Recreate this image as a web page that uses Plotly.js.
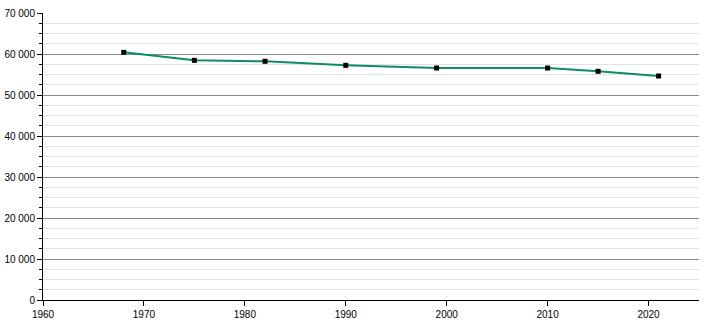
<!DOCTYPE html>
<html>
<head>
<meta charset="utf-8">
<script src="https://cdn.plot.ly/plotly-3.0.1.min.js"></script>
<style>html,body{margin:0;padding:0;background:#fff;}#chart{width:710px;height:320px;}</style>
</head>
<body>
<div id="chart"></div>
<script>
const years = [1968, 1975, 1982, 1990, 1999, 2010, 2015, 2021];
const population = [60400, 58450, 58220, 57240, 56580, 56580, 55780, 54630];
const xTicks = [1960, 1970, 1980, 1990, 2000, 2010, 2020];
const yTicks = [0, 10000, 20000, 30000, 40000, 50000, 60000, 70000];

const trace = {
  x: years,
  y: population,
  type: 'scatter',
  mode: 'lines+markers',
  line: {color: '#0f8a6a', width: 2},
  marker: {symbol: 'square', size: 5, color: '#000000'},
  hoverinfo: 'x+y'
};

const layout = {
  width: 710,
  height: 320,
  margin: {l: 43, r: 11, t: 13, b: 20, pad: 0},
  paper_bgcolor: '#ffffff',
  plot_bgcolor: '#ffffff',
  separators: '. ',
  showlegend: false,
  font: {family: 'Liberation Sans, Arial, sans-serif', size: 10, color: '#000000'},
  xaxis: {
    range: [1960, 2025],
    tickvals: xTicks,
    ticktext: xTicks.map(String),
    ticks: 'outside',
    ticklen: 5,
    tickcolor: '#000000',
    showline: true,
    linecolor: '#000000',
    linewidth: 1,
    showgrid: false,
    zeroline: false,
    tickfont: {size: 10}
  },
  yaxis: {
    range: [0, 70000],
    tickvals: yTicks,
    tickformat: ',d',
    ticks: 'outside',
    ticklen: 5,
    tickcolor: '#000000',
    showline: true,
    linecolor: '#000000',
    linewidth: 1,
    showgrid: true,
    gridcolor: '#8a8a8a',
    gridwidth: 1,
    zeroline: false,
    tickfont: {size: 10},
    minor: {
      dtick: 2500,
      tick0: 0,
      ticks: 'outside',
      ticklen: 3,
      tickcolor: '#000000',
      showgrid: true,
      gridcolor: '#e2e2e2',
      gridwidth: 1
    }
  }
};

Plotly.newPlot('chart', [trace], layout, {displayModeBar: false, staticPlot: true});
</script>
</body>
</html>
